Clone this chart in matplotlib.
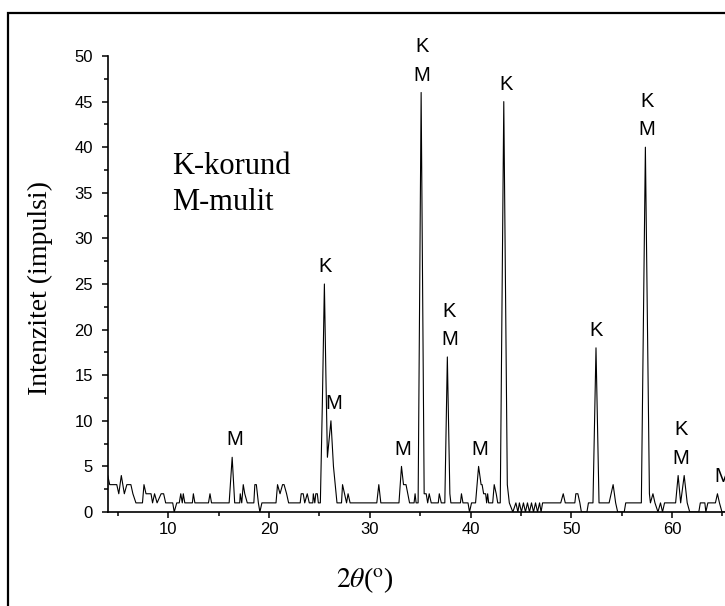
import matplotlib
matplotlib.use("Agg")
import matplotlib.pyplot as plt
from matplotlib.patches import Rectangle
from matplotlib.ticker import MultipleLocator

# difraktogram: 2theta (stepeni) i intenzitet (impulsi)
two_theta = [
    4.0, 4.2, 4.9, 5.1, 5.35, 5.65, 5.9, 6.3, 6.5, 6.8, 7.45, 7.6, 7.8, 8.3, 8.45,
    8.65, 8.9, 9.3, 9.55, 9.75, 10.45, 10.6, 10.85, 11.1, 11.25, 11.4, 11.5, 11.65,
    12.4, 12.5, 12.65, 14.0, 14.15, 14.3, 16.05, 16.35, 16.6, 17.1, 17.15, 17.3,
    17.45, 17.6, 17.85, 18.5, 18.6, 18.75, 18.95, 19.1, 19.3, 20.7, 20.85, 21.1,
    21.35, 21.5, 21.75, 21.95, 23.1, 23.2, 23.4, 23.55, 23.8, 24.0, 24.35, 24.4,
    24.55, 24.65, 24.8, 24.9, 25.1, 25.3, 25.5, 25.65, 25.8, 26.15, 26.4, 26.75,
    27.2, 27.3, 27.5, 27.7, 27.85, 28.05, 30.7, 30.9, 31.1, 32.9, 33.15, 33.35,
    33.6, 33.95, 34.4, 34.5, 34.6, 34.8, 35.1, 35.4, 35.6, 35.75, 35.9, 36.1, 36.8,
    36.9, 37.1, 37.45, 37.7, 37.95, 38.05, 39.0, 39.1, 39.25, 39.75, 39.9, 40.1,
    40.5, 40.8, 41.05, 41.15, 41.3, 41.5, 41.6, 41.7, 41.8, 42.2, 42.35, 42.55,
    42.7, 42.95, 43.3, 43.65, 43.85, 44.2, 44.5, 44.7, 44.85, 45.05, 45.25, 45.45,
    45.65, 45.85, 46.05, 46.25, 46.45, 46.65, 46.85, 47.0, 47.15, 48.95, 49.2,
    49.4, 50.35, 50.45, 50.65, 50.85, 51.0, 51.55, 51.7, 52.15, 52.45, 52.75,
    53.75, 53.95, 54.15, 54.4, 54.6, 55.25, 55.4, 56.95, 57.35, 57.75, 57.85,
    58.1, 58.3, 58.6, 58.85, 59.05, 59.25, 60.35, 60.6, 60.85, 61.2, 61.5, 61.75,
    62.65, 62.8, 63.25, 63.35, 63.55, 64.3, 64.5, 64.7, 64.95, 65.3,
]
intensity = [
    4, 3, 3, 2, 4, 2, 3, 3, 2, 1, 1, 3, 2, 2, 1,
    2, 1, 2, 2, 1, 1, 0, 1, 1, 2, 1, 2, 1,
    1, 2, 1, 1, 2, 1, 1, 6, 1, 1, 2, 1,
    3, 2, 1, 1, 3, 3, 1, 0, 1, 1, 3, 2,
    3, 3, 2, 1, 1, 2, 2, 1, 2, 1, 1, 2,
    1, 2, 2, 1, 1, 12, 25, 15, 6, 10, 5, 1,
    1, 3, 2, 1, 2, 1, 1, 3, 1, 1, 5, 3,
    3, 1, 1, 2, 1, 1, 46, 2, 2, 1, 2, 1, 1,
    2, 1, 1, 17, 2, 1, 1, 2, 1, 1, 0, 1,
    1, 5, 3, 3, 2, 2, 1, 2, 1, 1, 3, 2,
    1, 1, 45, 3, 1, 0, 1, 0, 1, 0, 1, 0,
    1, 0, 1, 0, 1, 0, 1, 0, 1, 1, 2,
    1, 1, 2, 2, 1, 0, 0, 1, 1, 18, 1,
    1, 2, 3, 1, 0, 0, 1, 1, 40, 2, 1,
    2, 1, 0, 1, 0, 1, 1, 4, 1, 4, 1, 0,
    0, 1, 1, 0, 1, 1, 2, 1, 0, 0,
]

# oznake faza iznad pikova (K-korund, M-mulit)
peak_pos = [16.6, 25.6, 26.4, 33.3, 35.2, 37.9, 40.9, 43.5, 52.5, 57.5, 60.9, 65.0]
peak_top = [6, 25, 10, 5, 46, 17, 5, 45, 18, 40, 4, 2]
peak_tag = ["M", "K", "M", "M", "KM", "KM", "M", "K", "K", "KM", "KM", "M"]

W, H = 725, 606
fig = plt.figure(figsize=(W / 100, H / 100), dpi=100)

# okvir oko slike
fig.patches.append(Rectangle((7.5 / W, -0.1), 1.2, (H - 13) / H + 0.1,
                             transform=fig.transFigure, fill=False,
                             lw=1.6, ec="black"))

ax = fig.add_axes([107.7 / W, (H - 512) / H, 1 - 107.7 / W, 456 / H])
ax.plot(two_theta, intensity, color="black", lw=0.8)
ax.set_xlim(4, 65.25)
ax.set_ylim(0, 50)

ax.spines["top"].set_visible(False)
ax.spines["right"].set_visible(False)
ax.spines["left"].set_linewidth(1.2)
ax.spines["bottom"].set_linewidth(1.2)

ax.xaxis.set_major_locator(MultipleLocator(10))
ax.xaxis.set_minor_locator(MultipleLocator(5))
ax.yaxis.set_major_locator(MultipleLocator(5))
ax.yaxis.set_minor_locator(MultipleLocator(2.5))
ax.tick_params(which="major", direction="out", length=4.5, width=1.1,
               labelsize=12)
ax.tick_params(which="minor", direction="out", length=3, width=1.1)
ax.tick_params(axis="y", which="major", pad=6)
ax.tick_params(axis="x", which="major", pad=3)
for lab in ax.get_xticklabels() + ax.get_yticklabels():
    lab.set_fontfamily("Liberation Sans")

for x, top, tag in zip(peak_pos, peak_top, peak_tag):
    if tag == "KM":
        ax.text(x, top + 1.9, "M", ha="center", va="center",
                fontsize=14.5, family="Liberation Sans", clip_on=False)
        ax.text(x, top + 5.0, "K", ha="center", va="center",
                fontsize=14.5, family="Liberation Sans", clip_on=False)
    else:
        ax.text(x, top + 1.9, tag, ha="center", va="center",
                fontsize=14.5, family="Liberation Sans", clip_on=False)

ax.text(10.4, 37.9, "K-korund", ha="left", va="center",
        fontsize=22, family="Liberation Serif")
ax.text(10.4, 33.9, "M-mulit", ha="left", va="center",
        fontsize=22, family="Liberation Serif")

plt.rcParams["mathtext.fontset"] = "stix"
fig.text(40 / W, 1 - 288 / H, "Intenzitet (impulsi)", rotation=90,
         ha="center", va="center", fontsize=20, family="Liberation Serif")
fig.text(365 / W, 1 - 580 / H, r"$2\theta$($^{\rm o}$)",
         ha="center", va="center", fontsize=20, family="Liberation Serif")

fig.savefig("out.png", dpi=100)
